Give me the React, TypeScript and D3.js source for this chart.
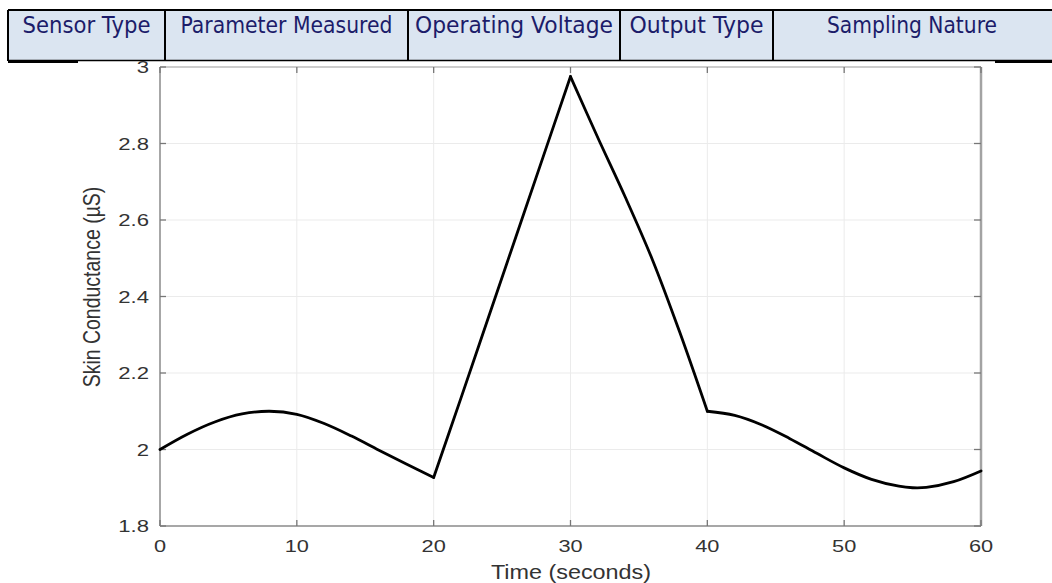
import React from 'react';
import * as d3 from 'd3';

// header row of the table above the figure
const headerCells = ['Sensor Type', 'Parameter Measured', 'Operating Voltage', 'Output Type', 'Sampling Nature'];

// skin conductance trace
const timeSec = [0, 2, 4, 6, 8, 10, 12, 14, 16, 18, 20, 22, 24, 26, 28, 30, 32, 34, 36, 38, 40, 42, 44, 46, 48, 50, 52, 54, 55, 56, 58, 60];
const conductance = [2.0, 2.04, 2.072, 2.093, 2.1, 2.092, 2.068, 2.035, 1.998, 1.962, 1.927, 2.135, 2.345, 2.555, 2.765, 2.975, 2.815, 2.66, 2.495, 2.305, 2.1, 2.089, 2.064, 2.029, 1.99, 1.952, 1.922, 1.904, 1.9, 1.901, 1.916, 1.944];
const breakTimes = [20, 30, 40];

const xTicks = [0, 10, 20, 30, 40, 50, 60];
const yTicks = [1.8, 2, 2.2, 2.4, 2.6, 2.8, 3];

const W = 1052;
const H = 583;
const plot = { left: 160, right: 981, top: 67, bottom: 526 };

// table geometry
const colEdges = [8, 165, 408, 620, 773, 1060];
const textWidths = [128, 212, 198, 134, 170];

const App = () => {
  const x = d3.scaleLinear().domain([0, 60]).range([plot.left, plot.right]);
  const y = d3.scaleLinear().domain([1.8, 3]).range([plot.bottom, plot.top]);

  const pts = timeSec.map((t, i) => ({ t, v: conductance[i] }));
  const bounds = [0, ...breakTimes, 60];
  const segments = bounds.slice(0, -1).map((b, i) => pts.filter(p => p.t >= b && p.t <= bounds[i + 1]));

  const line = d3.line<{ t: number; v: number }>()
    .x(d => x(d.t))
    .y(d => y(d.v))
    .curve(d3.curveCatmullRom.alpha(0.5));

  const axisGray = '#8a8a8a';
  const tickFont = 'Liberation Sans, Arial, sans-serif';

  return (
    <div style={{ position: 'fixed', left: 0, top: 0 }}>
      <svg width={W} height={H} style={{ display: 'block', background: '#fff' }}>
        {/* table header */}
        <rect x={colEdges[0]} y={10} width={W - colEdges[0]} height={50} fill="#dbe5f1" />
        <line x1={colEdges[0]} x2={W} y1={10} y2={10} stroke="#000" strokeWidth={2} />
        <line x1={colEdges[0]} x2={W} y1={60.5} y2={60.5} stroke="#000" strokeWidth={1.5} />
        <line x1={colEdges[0]} x2={78} y1={61.5} y2={61.5} stroke="#000" strokeWidth={3} />
        <line x1={995} x2={W} y1={61.5} y2={61.5} stroke="#000" strokeWidth={3} />
        {colEdges.slice(0, -1).map(cx => (
          <line key={cx} x1={cx} x2={cx} y1={10} y2={61} stroke="#000" strokeWidth={2} />
        ))}
        {headerCells.map((label, i) => {
          const cx = (colEdges[i] + Math.min(colEdges[i + 1], 1051)) / 2;
          return (
            <text key={label} x={cx} y={32.5} textAnchor="middle" fontFamily="DejaVu Sans, sans-serif"
              fontSize={23} fill="#1c1c6a" textLength={textWidths[i]} lengthAdjust="spacingAndGlyphs">
              {label}
            </text>
          );
        })}

        {/* grid */}
        {xTicks.slice(1, -1).map(t => (
          <line key={'gx' + t} x1={x(t)} x2={x(t)} y1={plot.top} y2={plot.bottom} stroke="#ebebeb" strokeWidth={1} />
        ))}
        {yTicks.slice(1, -1).map(v => (
          <line key={'gy' + v} x1={plot.left} x2={plot.right} y1={y(v)} y2={y(v)} stroke="#ebebeb" strokeWidth={1} />
        ))}

        {/* axes box */}
        <line x1={plot.left} x2={plot.right} y1={plot.top} y2={plot.top} stroke="#9a9a9a" strokeWidth={1.2} />
        <line x1={plot.left} x2={plot.right} y1={plot.bottom} y2={plot.bottom} stroke={axisGray} strokeWidth={1.5} />
        <line x1={plot.left} x2={plot.left} y1={plot.top} y2={plot.bottom} stroke={axisGray} strokeWidth={1.5} />
        <line x1={plot.right} x2={plot.right} y1={plot.top} y2={plot.bottom} stroke="#a3a3a3" strokeWidth={2.5} />

        {/* ticks */}
        {xTicks.map(t => (
          <g key={'tx' + t}>
            <line x1={x(t)} x2={x(t)} y1={plot.bottom} y2={plot.bottom - 6} stroke="#777" strokeWidth={1.3} />
            <line x1={x(t)} x2={x(t)} y1={plot.top} y2={plot.top + 6} stroke="#777" strokeWidth={1.3} />
            <text transform={`translate(${x(t)},552) scale(1.28,1)`} textAnchor="middle" fontFamily={tickFont}
              fontSize={17} fill="#333">{t}</text>
          </g>
        ))}
        {yTicks.map(v => (
          <g key={'ty' + v}>
            <line x1={plot.left} x2={plot.left + 6} y1={y(v)} y2={y(v)} stroke="#777" strokeWidth={1.3} />
            <line x1={plot.right} x2={plot.right - 7} y1={y(v)} y2={y(v)} stroke="#777" strokeWidth={1.3} />
            <text transform={`translate(149,${y(v) + 6}) scale(1.3,1)`} textAnchor="end" fontFamily={tickFont}
              fontSize={17} fill="#333">{d3.format('~g')(v)}</text>
          </g>
        ))}

        {/* data */}
        {segments.map((seg, i) => (
          <path key={i} d={line(seg) ?? ''} fill="none" stroke="#000" strokeWidth={2.8}
            strokeLinejoin="round" strokeLinecap="round" />
        ))}

        {/* axis labels */}
        <text transform="translate(571,579) scale(1.2,1)" textAnchor="middle" fontFamily={tickFont}
          fontSize={19.5} fill="#333">Time (seconds)</text>
        <text transform="translate(100,287) rotate(-90) scale(1,1.2)" textAnchor="middle" fontFamily={tickFont}
          fontSize={19.5} fill="#333">Skin Conductance (µS)</text>
      </svg>
    </div>
  );
};

export default App;
